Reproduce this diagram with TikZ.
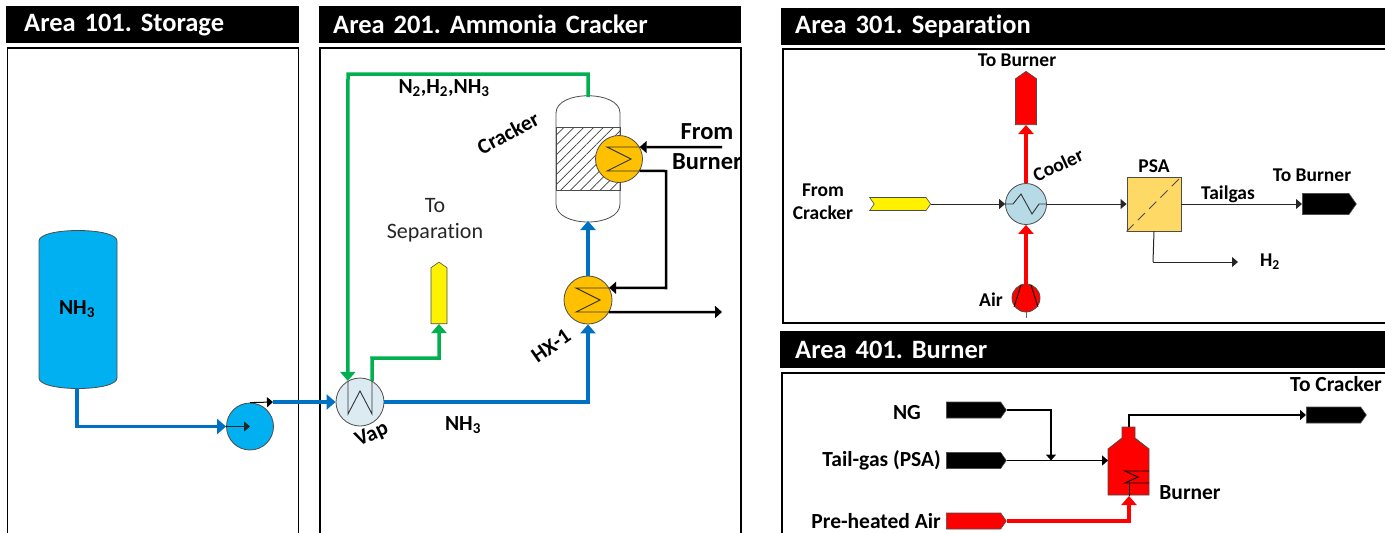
\documentclass[tikz,border=0pt]{standalone}
\usepackage{fontspec}
\setmainfont{Carlito}[Ligatures=NoCommon]
\usetikzlibrary{arrows.meta, patterns.meta, shapes.symbols}
\definecolor{dkblue}{HTML}{0070C0}
\definecolor{ltblue}{HTML}{00B0F0}
\definecolor{dkgreen}{HTML}{00B050}
\definecolor{hxorange}{HTML}{FFC000}
\definecolor{vapblue}{HTML}{DCEBF2}
\definecolor{coolblue}{HTML}{B7DBE6}
\definecolor{psayellow}{HTML}{FFD966}
\frenchspacing

\begin{document}
\begin{tikzpicture}[x=1pt, y=-1pt,
    head/.style = {fill=black, text=white, anchor=north west, inner ysep=0pt, inner xsep=0pt, font=\fontsize{26.5}{26.5}\bfseries, minimum height=37, align=left},
    area/.style = {draw, line width=1.7pt, anchor=north west, inner sep=0pt},
    lbl/.style = {font=\fontsize{19.5}{23}\bfseries, inner sep=0pt, align=center},
    mid lbl/.style = {font=\fontsize{21.5}{22}\bfseries, inner sep=0pt, align=center},
    big lbl/.style = {font=\fontsize{24.5}{30}\bfseries, inner sep=0pt, align=center},
    equip/.style = {draw=black!70, circle, inner sep=0pt, line width=0.8pt},
    sym/.style = {black!80, line width=0.9pt},
    tag/.style = {draw=black!70, signal, inner sep=0pt, line width=0.6pt, signal pointer angle=110},
    thick tip/.style = {-{Triangle[width=15pt, length=9pt]}},
    blue line/.style = {dkblue, line width=3.5pt, thick tip},
    green line/.style = {dkgreen, line width=3.5pt, thick tip},
    red line/.style = {red, line width=3.5pt, thick tip},
    black line/.style = {black, line width=2.5pt, -{Triangle[width=12pt, length=7pt]}},
    thin line/.style = {black!85, line width=1pt, -{Triangle[width=10pt, length=6pt]}},
    fuel line/.style = {black, line width=1.8pt, -{Triangle[width=10pt, length=6pt]}}]
    \clip (0,0) rectangle (1385,533);

    % Storage
    \node[head, text width=293] (head101) at (6,6) {\hspace*{18pt}Area 101. Storage};
    \node[area, minimum width=291, minimum height=500] (area101) at (6.5,47) {};
    \begin{scope}
        \draw[draw=black!70, fill=ltblue, line width=0.8pt] (39,241) .. controls (39,227) and (117,227) .. (117,241)
            -- (117,378) .. controls (117,392) and (39,392) .. (39,378) -- cycle;
        \node[mid lbl] (nh3 tank) at (77,309) {NH\textsubscript{3}};
        \coordinate (tank out) at (77,388);
        \node[equip, fill=ltblue, minimum size=47] (pump) at (250,426.5) {};
        \coordinate (pump exit) at (273,402);
        \coordinate (tank bend) at (77,426.5);

        \draw[blue line] (tank out) -- (tank bend) -- (pump.west);
        \draw[thin line] (pump.west) -- (pump.center);
    \end{scope}

    % Ammonia cracker
    \node[head, text width=422] (head201) at (319,6) {\hspace*{14pt}Area 201. Ammonia Cracker};
    \node[area, minimum width=421, minimum height=500] (area201) at (319,47) {};
    \begin{scope}
        \draw[draw=black!70, fill=white, line width=0.8pt] (556,113) .. controls (556,90) and (620,90) .. (620,113)
            -- (620,204) .. controls (620,228) and (556,228) .. (556,204) -- cycle;
        \draw[draw=black!70, line width=0.8pt, pattern={Lines[angle=45, distance=7pt, line width=0.7pt]}, pattern color=black!75] (556,127) rectangle (620,190);
        \coordinate (crk top) at (588,97);
        \coordinate (crk bot) at (588,221);
        \coordinate (top bend a) at (588,74);
        \coordinate (top bend b) at (348,74);
        \coordinate (burner in) at (722,147);
        \coordinate (back a) at (666,171);
        \coordinate (back b) at (666,288);
        \coordinate (gas out) at (722,312);
        \coordinate (vap bend a) at (372,358);
        \coordinate (vap bend b) at (439,358);
        \coordinate (nh3 bend) at (588,402);

        \node[equip, fill=vapblue, minimum size=48] (vap) at (360,402) {};
        \node[equip, fill=hxorange, minimum size=48] (hx1) at (588,300) {};
        \node[equip, fill=hxorange, minimum size=47] (crk hx) at (619,159) {};
        \node[tag, fill=yellow, signal to=north, minimum width=16, minimum height=56, anchor=south] (sep tag) at (439,324) {};

        \draw[sym] (348,381) -- (348,414) -- (360,391) -- (372,414) -- (372,381);
        \draw[sym] (611,288) -- (576,288) -- (600,300) -- (576,312) -- (611,312);
        \draw[sym] (642,147) -- (607,147) -- (631,159) -- (607,171) -- (642,171);

        \draw[blue line] (pump exit) -- (vap.west);
        \draw[thin line, black] (pump.north) -- (pump exit);
        \draw[blue line] (vap.east) -- (nh3 bend) -- (hx1.south);
        \draw[blue line] (hx1.north) -- (crk bot);
        \draw[green line] (crk top) -- (top bend a) -- (top bend b) -- (vap.120);
        \draw[green line] (vap.60) -- (vap bend a) -- (vap bend b) -- (sep tag.south);
        \draw[black line] (burner in) -- (crk hx.30);
        \draw[black line] (crk hx.-30) -- (back a) -- (back b) -- (hx1.30);
        \draw[black line] (hx1.-30) -- (gas out);

        \node[mid lbl] (mix lbl) at (444,88) {N\textsubscript{2},H\textsubscript{2},NH\textsubscript{3}};
        \node[mid lbl, rotate=28] (crk lbl) at (508,133) {Cracker};
        \node[big lbl] (from lbl) at (707,147) {From\\Burner};
        \node[inner sep=0pt, align=center, text=black!85, font=\fontsize{22}{26}\selectfont] (sep lbl) at (435,220) {To\\Separation};
        \node[mid lbl, rotate=35] (hx lbl) at (551,346) {HX-1};
        \node[mid lbl, rotate=25] (vap lbl) at (372,435) {Vap};
        \node[mid lbl] (nh3 lbl) at (463,425) {NH\textsubscript{3}};
    \end{scope}

    % Separation
    \node[head, text width=604] (head301) at (781,8) {\hspace*{14pt}Area 301. Separation};
    \node[area, minimum width=620, minimum height=274] (area301) at (782,48) {};
    \begin{scope}
        \node[tag, fill=yellow, signal from=west, signal to=east, minimum width=61, minimum height=13, anchor=east] (crk tag) at (931,204) {};
        \node[equip, fill=coolblue, minimum size=41] (cooler) at (1026,204) {};
        \node[tag, fill=red, signal to=north, minimum width=21, minimum height=46, anchor=south] (red tag) at (1026,125) {};
        \node[equip, fill=red, minimum size=28] (air comp) at (1026,298) {};
        \coordinate (air in) at (1026,318);
        \node[draw=black!70, fill=psayellow, line width=0.9pt, minimum size=54, inner sep=0pt] (psa) at (1154,204) {};
        \node[tag, fill=black, signal to=east, minimum width=54, minimum height=21, anchor=west] (burner tag) at (1302,204) {};
        \coordinate (h2 bend) at (1153,262);
        \coordinate (h2 end) at (1238,262);

        \draw[sym] (1006,204) -- (1013,204) -- (1021,194) -- (1032,214) -- (1039,204) -- (1046,204);
        \draw[black, line width=0.9pt] (1014,307) -- (1021,285);
        \draw[black, line width=0.9pt] (1038,307) -- (1031,285);
        \draw[black!70, line width=0.9pt, dash pattern=on 10pt off 6pt] (psa.south west) -- (psa.north east);

        \draw[thin line] (crk tag.east) -- (cooler.west);
        \draw[red line] (cooler.north) -- (red tag.south);
        \draw[black!60, line width=1pt] (air comp.south) -- (air in);
        \draw[red line] (air comp.north) -- (cooler.south);
        \draw[thin line] (cooler.east) -- (psa.west);
        \draw[thin line] (psa.east) -- (burner tag.west);
        \draw[black!85, line width=1pt] (psa.south) -- (h2 bend);
        \draw[thin line] (h2 bend) -- (h2 end);

        \node[lbl] (from crk lbl) at (823,202) {From\\Cracker};
        \node[lbl] (to b lbl) at (1017,60) {To Burner};
        \node[lbl, rotate=25] (cooler lbl) at (1058,165) {Cooler};
        \node[lbl] (air lbl) at (991,300) {Air};
        \node[lbl] (psa lbl) at (1154,166) {PSA};
        \node[lbl] (tail lbl) at (1228,194) {Tailgas};
        \node[lbl] (to b2 lbl) at (1312,175) {To Burner};
        \node[lbl] (h2 lbl) at (1270,262) {H\textsubscript{2}};
    \end{scope}

    % Burner
    \node[head, text width=605] (head401) at (780,331) {\hspace*{15pt}Area 401. Burner};
    \node[area, minimum width=620, minimum height=200] (area401) at (781,372) {};
    \begin{scope}
        \draw[draw=black!70, fill=red, line width=0.8pt] (1122,427) -- (1135,427) -- (1135,438) -- (1149,449) -- (1149,495)
            -- (1108,495) -- (1108,449) -- (1122,438) -- cycle;
        \draw[black, line width=0.9pt] (1149,471) -- (1125,471) -- (1138,477) -- (1125,483) -- (1149,483);
        \coordinate (brn left) at (1108,460.5);
        \coordinate (brn top) at (1129,427);
        \coordinate (brn bot) at (1129,496);
        \coordinate (brn coil) at (1129,483);

        \node[tag, fill=black, signal to=east, minimum width=60, minimum height=16, anchor=west] (ng tag) at (946,410) {};
        \node[tag, fill=black, signal to=east, minimum width=60, minimum height=16, anchor=west] (tail tag) at (946,460.5) {};
        \node[tag, fill=red, signal to=east, minimum width=60, minimum height=16, anchor=west] (air tag) at (946,521) {};
        \node[tag, fill=black, signal to=east, minimum width=60, minimum height=16, anchor=west] (crk out tag) at (1306,415) {};
        \coordinate (ng bend) at (1051,410);
        \coordinate (ng join) at (1051,460.5);
        \coordinate (air bend) at (1129,521);
        \coordinate (out bend) at (1129,415);

        \draw[fuel line] (ng tag.east) -- (ng bend) -- (ng join);
        \draw[fuel line] (tail tag.east) -- (brn left);
        \draw[fuel line] (brn top) -- (out bend) -- (crk out tag.west);
        \draw[black, line width=0.9pt] (brn bot) -- (brn coil);
        \draw[red line] (air tag.east) -- (air bend) -- (brn bot);

        \node[mid lbl] (ng lbl) at (907,413) {NG};
        \node[mid lbl, anchor=east] (tail gas lbl) at (941,460) {Tail-gas (PSA)};
        \node[mid lbl, anchor=east] (air in lbl) at (941,521) {Pre-heated Air};
        \node[mid lbl] (to crk lbl) at (1336,384) {To Cracker};
        \node[mid lbl] (brn lbl) at (1190,493) {Burner};
    \end{scope}
\end{tikzpicture}
\end{document}
